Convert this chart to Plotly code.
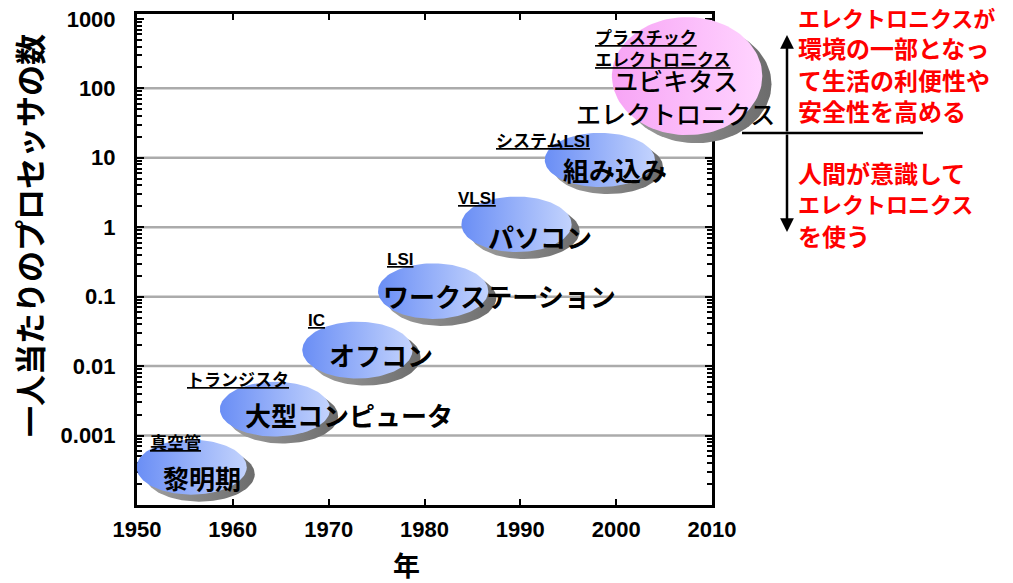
import numpy as np
import plotly.graph_objects as go

# ---- data: processors per person, one bubble per era ----
ERA_YEAR = [1955.7, 1964.4, 1973.0, 1980.9, 1989.6, 1998.3, 2007.4]
ERA_VALUE = [0.00035, 0.0024, 0.017, 0.12, 1.1, 9.3, 150]
ERA_NAME = ["黎明期", "大型コンピュータ", "オフコン", "ワークステーション",
            "パソコン", "組み込み", "ユビキタス<br>エレクトロニクス"]
ERA_DEVICE = ["真空管", "トランジスタ", "IC", "LSI", "VLSI", "システムLSI",
              "プラスチック<br>エレクトロニクス"]

Y_TICK_VALUES = [1000, 100, 10, 1, 0.1, 0.01, 0.001]
Y_TICK_TEXT = ["1000", "100", "10", "1", "0.1", "0.01", "0.001"]
GRID_VALUES = [100, 10, 1, 0.1, 0.01, 0.001]
X_TICK_VALUES = [1950, 1960, 1970, 1980, 1990, 2000, 2010]

UPPER_NOTE = ["エレクトロニクスが", "環境の一部となっ", "て生活の利便性や", "安全性を高める"]
LOWER_NOTE = ["人間が意識して", "エレクトロニクス", "を使う"]

# ---- geometry / style ----
W, H = 1013, 583
M_L, M_R, M_T, M_B = 137, 13, 14, 78
PAPER_W = W - M_L - M_R
PLOT_H = H - M_T - M_B
X_RANGE = [1950, 2010]
Y_RANGE = [-4.0, 3.07]
MAIN_FRAC = 575 / PAPER_W          # the framed chart occupies the left part
X2_RANGE = [X_RANGE[0], X_RANGE[0] + (X_RANGE[1] - X_RANGE[0]) / MAIN_FRAC]
PX_PER_YEAR = 575 / (X_RANGE[1] - X_RANGE[0])
PX_PER_DECADE = PLOT_H / (Y_RANGE[1] - Y_RANGE[0])

BUBBLE_W = [11.5, 11.5, 11.5, 11.5, 11.5, 11.5, 15.7]       # years
BUBBLE_H = [0.79, 0.79, 0.82, 0.80, 0.80, 0.78, 1.70]       # decades
BUBBLE_COLORS = [("#6a8ef5", "#c3d3fd")] * 6 + [("#f7a4f5", "#ffd4ff")]
SHADOW_COLORS = ("#a0a0a0", "#6c6c6c")
SHADOW_PX = (8, 7)

# label offsets from bubble centre in screen pixels (right, down)
NAME_OFFSET = [(-31, 10), (-32, 5), (-30, 4), (-52, 4), (-31, 12), (-39, 10), (-12, 20)]
DEVICE_OFFSET = [(-44, -24), (-90, -29), (-51, -30), (-48, -32), (-61, -26), (-106, -18), (-94, -27)]

JP = "'Noto Sans CJK JP', sans-serif"
LATIN = "Arial, 'Liberation Sans', 'Noto Sans CJK JP', sans-serif"


def px_x(px):
    return (px - M_L) / PAPER_W


def px_y(py):
    return (M_T + PLOT_H - py) / PLOT_H


def ellipse(cx, cy, w, h, n=120):
    t = np.linspace(0, 2 * np.pi, n)
    xs = cx + w / 2 * np.cos(t)
    ys = 10 ** (np.log10(cy) + h / 2 * np.sin(t))
    return xs, ys


def note_size(line):
    # katakana-heavy lines are set a little smaller so they keep the block width
    kana = sum(1 for ch in line if "\u30a0" <= ch <= "\u30ff")
    return 22 if kana >= 5 else 24


fig = go.Figure()
# keeps the framed subplot alive
fig.add_trace(go.Scatter(x=[], y=[], xaxis="x", yaxis="y", showlegend=False))

sdx = SHADOW_PX[0] / PX_PER_YEAR
sdy = SHADOW_PX[1] / PX_PER_DECADE
for i, (yr, val) in enumerate(zip(ERA_YEAR, ERA_VALUE)):
    k = 1.15 if i == 6 else 1.0
    xs, ys = ellipse(yr + sdx * k, val / 10 ** (sdy * k), BUBBLE_W[i], BUBBLE_H[i])
    fig.add_trace(go.Scatter(
        x=xs, y=ys, xaxis="x2", yaxis="y2", mode="lines", line=dict(width=0),
        fill="toself", fillgradient=dict(type="horizontal",
                                         colorscale=[[0, SHADOW_COLORS[0]], [1, SHADOW_COLORS[1]]]),
        hoverinfo="skip", showlegend=False))
    xs, ys = ellipse(yr, val, BUBBLE_W[i], BUBBLE_H[i])
    c0, c1 = BUBBLE_COLORS[i]
    fig.add_trace(go.Scatter(
        x=xs, y=ys, xaxis="x2", yaxis="y2", mode="lines", line=dict(width=0),
        fill="toself", fillgradient=dict(type="horizontal", colorscale=[[0, c0], [1, c1]]),
        hoverinfo="skip", showlegend=False))

annotations = []
for i, (yr, val) in enumerate(zip(ERA_YEAR, ERA_VALUE)):
    last = i == 6
    ndx, ndy = NAME_OFFSET[i]
    annotations.append(dict(
        x=yr, y=np.log10(val), xref="x2", yref="y2", text=ERA_NAME[i], showarrow=False,
        xanchor="center" if last else "left", yanchor="middle", align="center",
        xshift=ndx, yshift=-ndy,
        font=dict(family=JP, size=25 if last else 26, color="black",
                  weight=500 if last else "bold")))
    ddx, ddy = DEVICE_OFFSET[i]
    annotations.append(dict(
        x=yr, y=np.log10(val), xref="x2", yref="y2", text=ERA_DEVICE[i], showarrow=False,
        xanchor="left", yanchor="middle", align="left", xshift=ddx, yshift=-ddy,
        font=dict(family=LATIN, size=17, color="black", weight="bold", lineposition="under")))

# axis titles
annotations.append(dict(x=px_x(29), y=px_y(236), xref="paper", yref="paper",
                        xanchor="center", yanchor="middle",
                        text="一人当たりのプロセッサの数", textangle=-90, showarrow=False,
                        font=dict(family=JP, size=31, color="black", weight="bold")))
annotations.append(dict(x=px_x(406), y=px_y(564), xref="paper", yref="paper", text="年",
                        xanchor="center", yanchor="middle", showarrow=False,
                        font=dict(family=JP, size=27, color="black", weight="bold")))

# red notes on the right
for j, line in enumerate(UPPER_NOTE):
    annotations.append(dict(x=px_x(796), y=px_y(17 + 31 * j), xref="paper", yref="paper",
                            text=line, showarrow=False, xanchor="left", yanchor="middle",
                            font=dict(family=JP, size=note_size(line), color="#ff0000",
                                      weight="bold")))
for j, line in enumerate(LOWER_NOTE):
    annotations.append(dict(x=px_x(796), y=px_y(172 + 31.5 * j), xref="paper", yref="paper",
                            text=line, showarrow=False, xanchor="left", yanchor="middle",
                            font=dict(family=JP, size=note_size(line), color="#ff0000",
                                      weight="bold")))

# double-headed arrow
for tip, tail in ((35, 133), (232, 133)):
    annotations.append(dict(x=px_x(787), y=px_y(tip), xref="paper", yref="paper", text="",
                            showarrow=True, arrowhead=2, arrowsize=1.1, arrowwidth=2.5,
                            arrowcolor="black", ax=0, ay=tail - tip))

shapes = []
for v in GRID_VALUES:
    shapes.append(dict(type="line", xref="x domain", x0=0, x1=1, yref="y", y0=v, y1=v,
                       line=dict(color="#ababab", width=2.5), layer="below"))
shapes.append(dict(type="line", xref="paper", x0=px_x(742), x1=px_x(923),
                   yref="paper", y0=px_y(133), y1=px_y(133),
                   line=dict(color="black", width=2.5)))

tickfont = dict(family="Arial, 'Liberation Sans', sans-serif", size=22, color="black", weight="bold")
fig.update_layout(
    width=W, height=H, autosize=False,
    margin=dict(l=M_L, r=M_R, t=M_T, b=M_B, autoexpand=False),
    paper_bgcolor="white", plot_bgcolor="rgba(0,0,0,0)", showlegend=False,
    xaxis=dict(domain=[0, MAIN_FRAC], range=X_RANGE, tickmode="array", tickvals=X_TICK_VALUES,
               ticks="inside", ticklen=6, tickwidth=2, tickcolor="black",
               showline=True, linewidth=3, linecolor="black", mirror="allticks",
               showgrid=False, zeroline=False, tickfont=tickfont, anchor="y",
               ticklabelstandoff=3, automargin=False),
    yaxis=dict(type="log", domain=[0, 1], range=Y_RANGE, tickmode="array",
               tickvals=Y_TICK_VALUES, ticktext=Y_TICK_TEXT,
               ticks="inside", ticklen=7, tickwidth=2, tickcolor="black",
               minor=dict(ticks="inside", ticklen=5, tickwidth=2, tickcolor="black",
                          dtick="D1", showgrid=False),
               showline=True, linewidth=3, linecolor="black", mirror="allticks",
               showgrid=False, zeroline=False, tickfont=tickfont, anchor="x",
               ticklabelstandoff=14, automargin=False),
    xaxis2=dict(domain=[0, 1], range=X2_RANGE, visible=False, anchor="y2", automargin=False),
    yaxis2=dict(type="log", domain=[0, 1], range=Y_RANGE, visible=False, anchor="x2",
                automargin=False),
    annotations=annotations, shapes=shapes,
)

fig.write_html("out.html", config={"responsive": False})
